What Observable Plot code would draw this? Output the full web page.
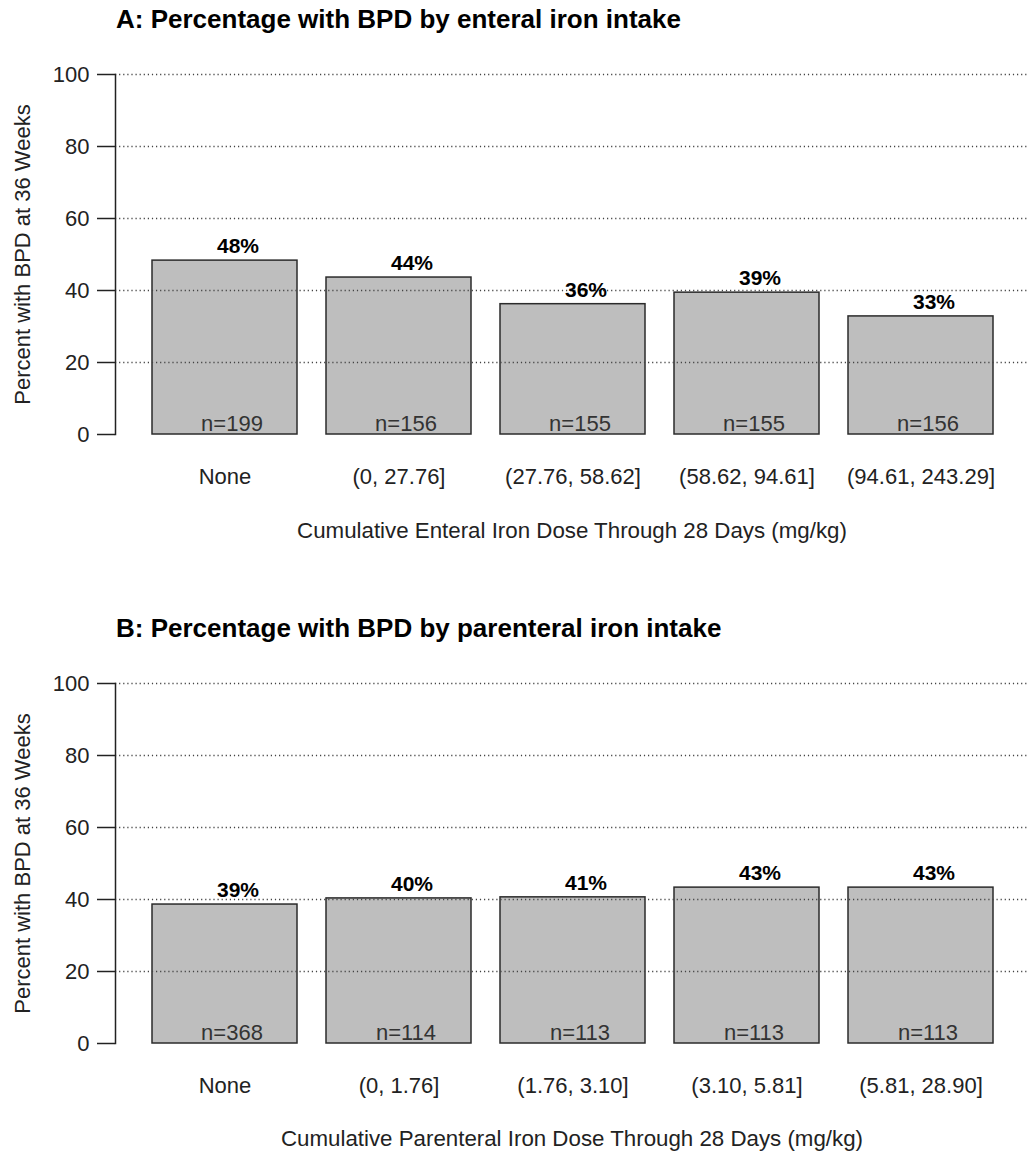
<!DOCTYPE html>
<html><head><meta charset="utf-8">
<script src="https://cdn.jsdelivr.net/npm/d3@7"></script>
<script src="https://cdn.jsdelivr.net/npm/@observablehq/plot@0.6"></script>
<style>
body{margin:0;overflow:hidden;background:#fff;font-family:"Liberation Sans",Arial,Helvetica,sans-serif}
h2{margin:0;height:38px;line-height:38px;font-size:26px;font-weight:bold;padding-left:116px;color:#000;white-space:nowrap}
</style></head>
<body>
<div id="a"></div>
<div id="b"></div>
<script>
const titleA = "A: Percentage with BPD by enteral iron intake";
const catsA = ["None", "(0, 27.76]", "(27.76, 58.62]", "(58.62, 94.61]", "(94.61, 243.29]"];
const pctA = [48.3, 43.6, 36.2, 39.4, 32.8];
const nA = [199, 156, 155, 155, 156];
const xLabelA = "Cumulative Enteral Iron Dose Through 28 Days (mg/kg)";

const titleB = "B: Percentage with BPD by parenteral iron intake";
const catsB = ["None", "(0, 1.76]", "(1.76, 3.10]", "(3.10, 5.81]", "(5.81, 28.90]"];
const pctB = [38.6, 40.3, 40.6, 43.3, 43.3];
const nB = [368, 114, 113, 113, 113];
const xLabelB = "Cumulative Parenteral Iron Dose Through 28 Days (mg/kg)";

const yLabel = "Percent with BPD at 36 Weeks";
const yTicks = [0, 20, 40, 60, 80, 100];
const gridTicks = [20, 40, 60, 80, 100];

const FONT = '"Liberation Sans", Arial, Helvetica, sans-serif';

function panel(el, title, cats, pct, n, xLabel, height, marginBottom, labelDy) {
  const data = cats.map((c, i) => ({cat: c, pct: pct[i], n: n[i]}));
  const h = document.createElement("h2");
  h.textContent = title;
  el.appendChild(h);
  const chart = Plot.plot({
    width: 1028,
    height,
    marginLeft: 115,
    marginRight: 0,
    marginTop: 36,
    marginBottom,
    style: {fontFamily: FONT, fontSize: "22px", color: "#000", background: "#fff", overflow: "visible"},
    x: {domain: cats, paddingInner: 0.166, paddingOuter: 0.192, align: 0.52, label: null},
    y: {domain: [0, 100], label: null},
    marks: [
      Plot.barY(data, {x: "cat", y: "pct", fill: "#bebebe", stroke: "#2b2b2b", strokeWidth: 1.5}),
      Plot.gridY(gridTicks, {stroke: "#444", strokeOpacity: 1, strokeWidth: 1.3, strokeDasharray: "1.2,2.9"}),
      Plot.frame({anchor: "left", stroke: "#222", strokeWidth: 1.5}),
      Plot.axisY({ticks: yTicks, tickSize: 18, tickPadding: 8, label: null, fontSize: 22, stroke: "#222", strokeWidth: 1.5, fill: "#222"}),
      Plot.axisX({tickSize: 0, tickPadding: 34, label: null, fontSize: 22, fill: "#222"}),
      Plot.text(data, {x: "cat", y: "pct", text: d => Math.round(d.pct) + "%", dx: 13, dy: -14, lineAnchor: "middle", fontWeight: "bold", fontSize: 21, fill: "#000"}),
      Plot.text(data, {x: "cat", y: 0, text: d => "n=" + d.n, dx: 7, dy: -11, lineAnchor: "middle", fontSize: 22, fill: "#333"}),
      Plot.text([xLabel], {text: d => d, frameAnchor: "bottom", dy: labelDy, lineAnchor: "middle", textAnchor: "middle", fontSize: 22.3, fill: "#222"}),
      Plot.text([yLabel], {text: d => d, frameAnchor: "left", dx: -93, rotate: -90, textAnchor: "middle", lineAnchor: "middle", fontSize: 22, fill: "#222"})
    ]
  });
  el.appendChild(chart);
}

panel(document.getElementById("a"), titleA, catsA, pctA, nA, xLabelA, 571, 175, 96);
panel(document.getElementById("b"), titleB, catsB, pctB, nB, xLabelB, 506, 110, 95);
</script>
</body></html>
